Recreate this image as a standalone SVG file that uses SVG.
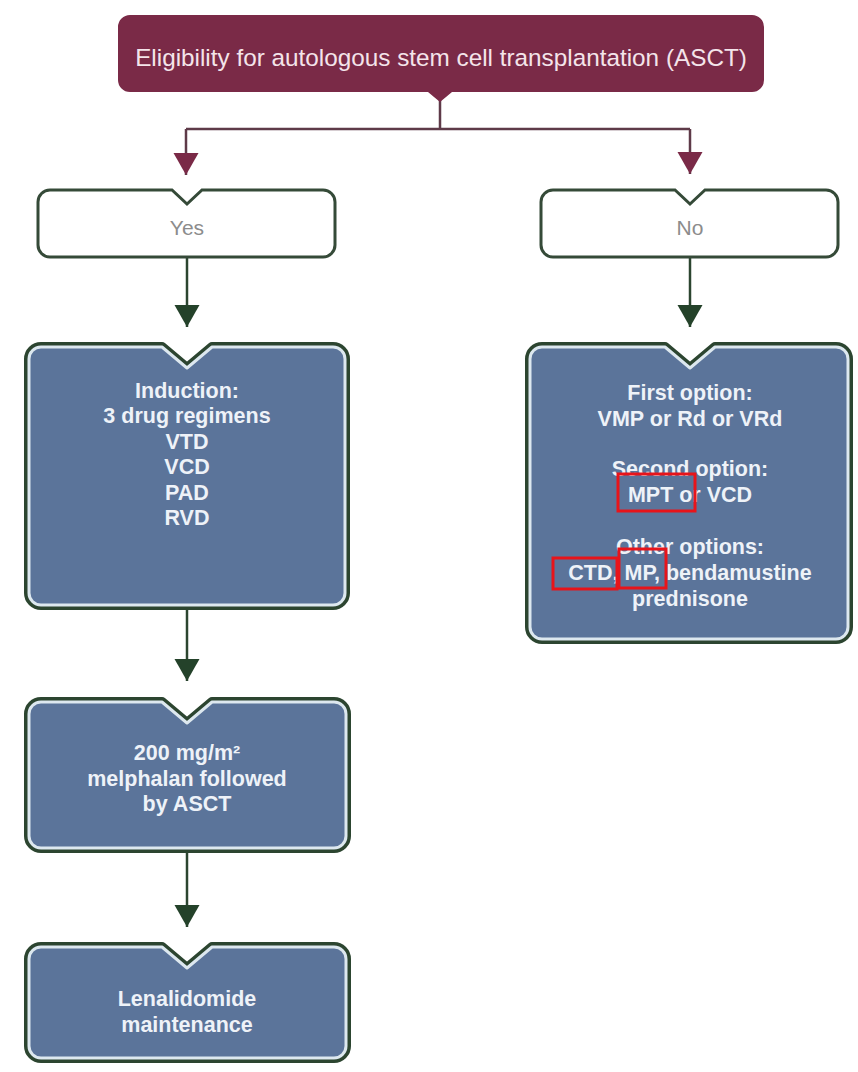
<svg xmlns="http://www.w3.org/2000/svg" width="858" height="1072" viewBox="0 0 858 1072">
  <defs>
    <style>
      .title { font-family: "Liberation Sans", Arial, sans-serif; font-size: 24.3px; fill: #f4e4ea; text-anchor: middle; }
      .yn { font-family: "Liberation Sans", Arial, sans-serif; font-size: 21px; fill: #8c8c8c; text-anchor: middle; }
      .bt { font-family: "Liberation Sans", Arial, sans-serif; font-size: 21.5px; font-weight: bold; fill: #eef2f8; text-anchor: middle; }
      .white { fill: #ffffff; stroke: #354a38; stroke-width: 3; }
      .blueOuter { fill: #5b749a; stroke: #2c4530; stroke-width: 10; stroke-linejoin: round; }
      .blueInner { fill: #5b749a; stroke: #dde8ef; stroke-width: 3; stroke-linejoin: round; }
      .mline { fill: none; stroke: #5e3a48; stroke-width: 2.5; }
      .gline { fill: none; stroke: #2c4530; stroke-width: 2.5; }
      .anno { fill: none; stroke: #e8141a; stroke-width: 3; }
    </style>
    <marker id="mHead" markerUnits="userSpaceOnUse" markerWidth="24" markerHeight="26" viewBox="0 -13 22 26" refX="22" refY="0" orient="auto">
      <path d="M0,-12.5 L22,0 L0,12.5 Z" fill="#7a2a47"/>
    </marker>
    <marker id="gHead" markerUnits="userSpaceOnUse" markerWidth="24" markerHeight="26" viewBox="0 -13 22 26" refX="22" refY="0" orient="auto">
      <path d="M0,-12.5 L22,0 L0,12.5 Z" fill="#24422a"/>
    </marker>
  </defs>
  <rect width="858" height="1072" fill="#ffffff"/>

  <g id="connectors">
    <path class="mline" d="M440,100 V129 M186,129 H690"/>
    <path class="mline" d="M186,129 V175" marker-end="url(#mHead)"/>
    <path class="mline" d="M690,129 V174" marker-end="url(#mHead)"/>
    <path class="gline" d="M187,258 V327" marker-end="url(#gHead)"/>
    <path class="gline" d="M690,258 V327" marker-end="url(#gHead)"/>
    <path class="gline" d="M187,610 V681" marker-end="url(#gHead)"/>
    <path class="gline" d="M187,853 V927" marker-end="url(#gHead)"/>
  </g>

  <g id="node-eligibility">
    <path d="M130,15 H752 A12,12 0 0 1 764,27 V80 A12,12 0 0 1 752,92 H452 L440,102 L428,92 H130 A12,12 0 0 1 118,80 V27 A12,12 0 0 1 130,15 Z" fill="#7a2a47"/>
    <text class="title" x="441" y="66">Eligibility for autologous stem cell transplantation (ASCT)</text>
  </g>

  <g id="node-yes">
    <path class="white" d="M50,190 H172 L187,204 L202,190 H323 A12,12 0 0 1 335,202 V245 A12,12 0 0 1 323,257 H50 A12,12 0 0 1 38,245 V202 A12,12 0 0 1 50,190 Z"/>
    <text class="yn" x="187" y="235">Yes</text>
  </g>

  <g id="node-no">
    <path class="white" d="M553,190 H675 L690,204 L705,190 H826 A12,12 0 0 1 838,202 V245 A12,12 0 0 1 826,257 H553 A12,12 0 0 1 541,245 V202 A12,12 0 0 1 553,190 Z"/>
    <text class="yn" x="690" y="235">No</text>
  </g>

  <g id="node-induction">
    <path class="blueOuter" d="M41,347 H162 L187,368 L212,347 H333 A12,12 0 0 1 345,359 V593 A12,12 0 0 1 333,605 H41 A12,12 0 0 1 29,593 V359 A12,12 0 0 1 41,347 Z"/>
    <path class="blueInner" d="M41,347 H162 L187,368 L212,347 H333 A12,12 0 0 1 345,359 V593 A12,12 0 0 1 333,605 H41 A12,12 0 0 1 29,593 V359 A12,12 0 0 1 41,347 Z"/>
    <text class="bt" x="187" y="398">Induction:</text>
    <text class="bt" x="187" y="423">3 drug regimens</text>
    <text class="bt" x="187" y="448.5">VTD</text>
    <text class="bt" x="187" y="474">VCD</text>
    <text class="bt" x="187" y="499.5">PAD</text>
    <text class="bt" x="187" y="525">RVD</text>
  </g>

  <g id="node-options">
    <path class="blueOuter" d="M542,347 H665 L690,368 L715,347 H836 A12,12 0 0 1 848,359 V627 A12,12 0 0 1 836,639 H542 A12,12 0 0 1 530,627 V359 A12,12 0 0 1 542,347 Z"/>
    <path class="blueInner" d="M542,347 H665 L690,368 L715,347 H836 A12,12 0 0 1 848,359 V627 A12,12 0 0 1 836,639 H542 A12,12 0 0 1 530,627 V359 A12,12 0 0 1 542,347 Z"/>
    <text class="bt" x="690" y="400">First option:</text>
    <text class="bt" x="690" y="426">VMP or Rd or VRd</text>
    <text class="bt" x="690" y="476">Second option:</text>
    <text class="bt" x="690" y="502">MPT or VCD</text>
    <text class="bt" x="690" y="554">Other options:</text>
    <text class="bt" x="690" y="580">CTD, MP, bendamustine</text>
    <text class="bt" x="690" y="606">prednisone</text>
  </g>

  <g id="node-melphalan">
    <path class="blueOuter" d="M41,702 H162 L187,723 L212,702 H334 A12,12 0 0 1 346,714 V836 A12,12 0 0 1 334,848 H41 A12,12 0 0 1 29,836 V714 A12,12 0 0 1 41,702 Z"/>
    <path class="blueInner" d="M41,702 H162 L187,723 L212,702 H334 A12,12 0 0 1 346,714 V836 A12,12 0 0 1 334,848 H41 A12,12 0 0 1 29,836 V714 A12,12 0 0 1 41,702 Z"/>
    <text class="bt" x="187" y="760">200 mg/m²</text>
    <text class="bt" x="187" y="786">melphalan followed</text>
    <text class="bt" x="187" y="811">by ASCT</text>
  </g>

  <g id="node-lenalidomide">
    <path class="blueOuter" d="M41,947 H162 L187,968 L212,947 H334 A12,12 0 0 1 346,959 V1046 A12,12 0 0 1 334,1058 H41 A12,12 0 0 1 29,1046 V959 A12,12 0 0 1 41,947 Z"/>
    <path class="blueInner" d="M41,947 H162 L187,968 L212,947 H334 A12,12 0 0 1 346,959 V1046 A12,12 0 0 1 334,1058 H41 A12,12 0 0 1 29,1046 V959 A12,12 0 0 1 41,947 Z"/>
    <text class="bt" x="187" y="1006">Lenalidomide</text>
    <text class="bt" x="187" y="1032">maintenance</text>
  </g>

  <g id="annotations">
    <rect class="anno" x="618" y="474" width="77" height="37"/>
    <rect class="anno" x="553" y="558" width="64" height="31"/>
    <rect class="anno" x="619" y="549" width="47" height="39"/>
  </g>
</svg>
